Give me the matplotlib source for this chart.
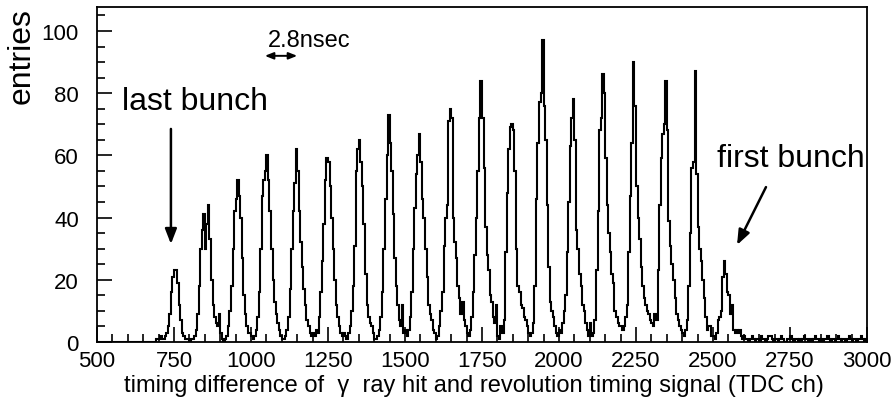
import numpy as np
import matplotlib
matplotlib.use("Agg")
import matplotlib.pyplot as plt
from matplotlib.ticker import MultipleLocator

plt.rcParams['font.family'] = ['Liberation Sans', 'DejaVu Sans']

# histogram: TDC channel bins of 5 ch from 500 to 3000
tdc_min = 500
tdc_max = 3000
bin_width = 5
counts = [
    # 500-600
    0, 0, 0, 0, 0, 0, 0, 0, 0, 0, 0, 0, 0, 0, 0, 0, 0, 0, 0, 0,
    # 600-700
    0, 0, 0, 0, 0, 0, 0, 0, 0, 0, 0, 0, 0, 0, 0, 0, 0, 0, 1, 1,
    # 700-800 (last bunch)
    1, 2, 1, 1, 2, 3, 5, 9, 16, 21, 23, 23, 19, 12, 7, 3, 2, 1, 1, 1,
    # 800-900
    0, 1, 1, 2, 4, 9, 18, 30, 36, 41, 30, 38, 44, 33, 20, 12, 8, 6, 5, 9,
    # 900-1000
    3, 1, 0, 1, 2, 5, 10, 18, 30, 42, 46, 52, 47, 40, 27, 15, 9, 5, 3, 3,
    # 1000-1100
    2, 1, 2, 4, 8, 16, 30, 47, 52, 55, 60, 52, 42, 30, 20, 13, 9, 6, 4, 2,
    # 1100-1200
    1, 1, 2, 4, 8, 17, 30, 42, 51, 62, 55, 42, 32, 24, 17, 12, 7, 5, 3, 2,
    # 1200-1300
    3, 2, 4, 3, 8, 16, 26, 38, 52, 59, 58, 50, 40, 30, 20, 12, 8, 5, 3, 2,
    # 1300-1400
    3, 2, 1, 3, 5, 10, 18, 31, 55, 62, 65, 58, 50, 38, 22, 12, 8, 6, 5, 3,
    # 1400-1500
    1, 1, 2, 4, 8, 16, 30, 46, 60, 73, 64, 55, 41, 27, 18, 12, 7, 5, 12, 3,
    # 1500-1600
    4, 2, 4, 8, 16, 30, 43, 54, 60, 67, 58, 46, 40, 30, 21, 12, 9, 7, 4, 3,
    # 1600-1700
    1, 2, 5, 10, 16, 31, 40, 44, 71, 75, 72, 40, 32, 27, 18, 14, 9, 13, 7, 5,
    # 1700-1800
    3, 2, 4, 8, 16, 28, 40, 55, 72, 84, 72, 56, 37, 28, 23, 15, 13, 8, 6, 12,
    # 1800-1900
    2, 1, 5, 3, 7, 29, 48, 62, 69, 70, 68, 55, 30, 18, 16, 12, 11, 8, 7, 5,
    # 1900-2000
    3, 2, 3, 6, 18, 46, 64, 77, 80, 97, 76, 65, 44, 24, 13, 10, 8, 5, 3, 2,
    # 2000-2100
    4, 3, 6, 10, 15, 29, 45, 63, 72, 78, 65, 36, 30, 22, 18, 12, 10, 6, 4, 2,
    # 2100-2200
    6, 2, 3, 7, 23, 42, 68, 72, 86, 80, 59, 44, 35, 29, 22, 19, 10, 8, 6, 5,
    # 2200-2300
    5, 4, 5, 8, 12, 29, 47, 64, 90, 76, 50, 40, 33, 24, 18, 14, 12, 10, 9, 7,
    # 2300-2400
    6, 5, 9, 7, 23, 44, 59, 67, 70, 84, 68, 39, 31, 25, 20, 14, 9, 7, 5, 4,
    # 2400-2500
    3, 2, 4, 7, 18, 35, 56, 58, 87, 54, 37, 30, 26, 20, 14, 8, 4, 5, 5, 2,
    # 2500-2600 (first bunch)
    2, 1, 3, 7, 8, 10, 21, 26, 22, 16, 15, 9, 12, 4, 3, 4, 3, 4, 2, 1,
    # 2600-3000 (background)
    2, 1, 1, 0, 1, 2, 1, 0, 1, 1, 0, 2, 1, 1, 0, 1, 2, 2, 1, 0,
    1, 1, 0, 1, 2, 1, 0, 0, 1, 1, 2, 1, 0, 1, 1, 0, 1, 0, 1, 2,
    1, 1, 0, 1, 0, 1, 2, 1, 1, 0, 1, 0, 1, 1, 2, 1, 0, 1, 1, 0,
    1, 2, 1, 0, 1, 1, 0, 1, 2, 1, 0, 1, 1, 0, 1, 1, 2, 1, 0, 1,
]

xticks = [500, 750, 1000, 1250, 1500, 1750, 2000, 2250, 2500, 2750, 3000]
yticks = [0, 20, 40, 60, 80, 100]

edges = np.arange(tdc_min, tdc_max + bin_width, bin_width)

fig = plt.figure(figsize=(8.96, 4.02), dpi=100)
ax = fig.add_axes([97/896, 1 - 343/402, 770/896, 335/402])

ax.stairs(counts, edges, color='black', lw=1.5, baseline=0)

ax.set_xlim(tdc_min, tdc_max)
ax.set_ylim(0, 107.7)
ax.set_xticks(xticks)
ax.set_yticks(yticks)
ax.xaxis.set_minor_locator(MultipleLocator(50))
ax.yaxis.set_minor_locator(MultipleLocator(5))
ax.tick_params(which='both', direction='in', top=False, right=False,
               width=1.2, labelsize=16)
ax.tick_params(which='major', length=11)
ax.tick_params(which='minor', length=5.5)
ax.tick_params(axis='x', which='major', pad=6)
ax.tick_params(axis='y', which='major', pad=13)
for s in ax.spines.values():
    s.set_linewidth(1.3)

fig.text(22/896, 1 - 8/402, 'entries', rotation=90, ha='center', va='top',
         fontsize=23)
fig.text(474/896, 1 - 386/402,
         'timing difference of  γ  ray hit and revolution timing signal (TDC ch)',
         ha='center', va='center', fontsize=17)

ax.text(581, 74.9, 'last bunch', fontsize=23, ha='left', va='baseline')
ax.text(2513, 56.6, 'first bunch', fontsize=23, ha='left', va='baseline')
ax.text(1055, 95.2, '2.8nsec', fontsize=17, ha='left', va='baseline')

ax.annotate('', xy=(740, 31.5), xytext=(740, 68.5),
            arrowprops=dict(arrowstyle='-|>,head_length=0.9,head_width=0.35',
                            color='black', lw=1.8, shrinkA=0, shrinkB=0))
ax.annotate('', xy=(2578, 31.2), xytext=(2672, 49.8),
            arrowprops=dict(arrowstyle='-|>,head_length=0.9,head_width=0.35',
                            color='black', lw=1.8, shrinkA=0, shrinkB=0))
ax.annotate('', xy=(1045, 92), xytext=(1150, 92),
            arrowprops=dict(arrowstyle='<|-|>,head_length=0.5,head_width=0.2',
                            color='black', lw=1.4, shrinkA=0, shrinkB=0))

fig.savefig('out.png', dpi=100)
